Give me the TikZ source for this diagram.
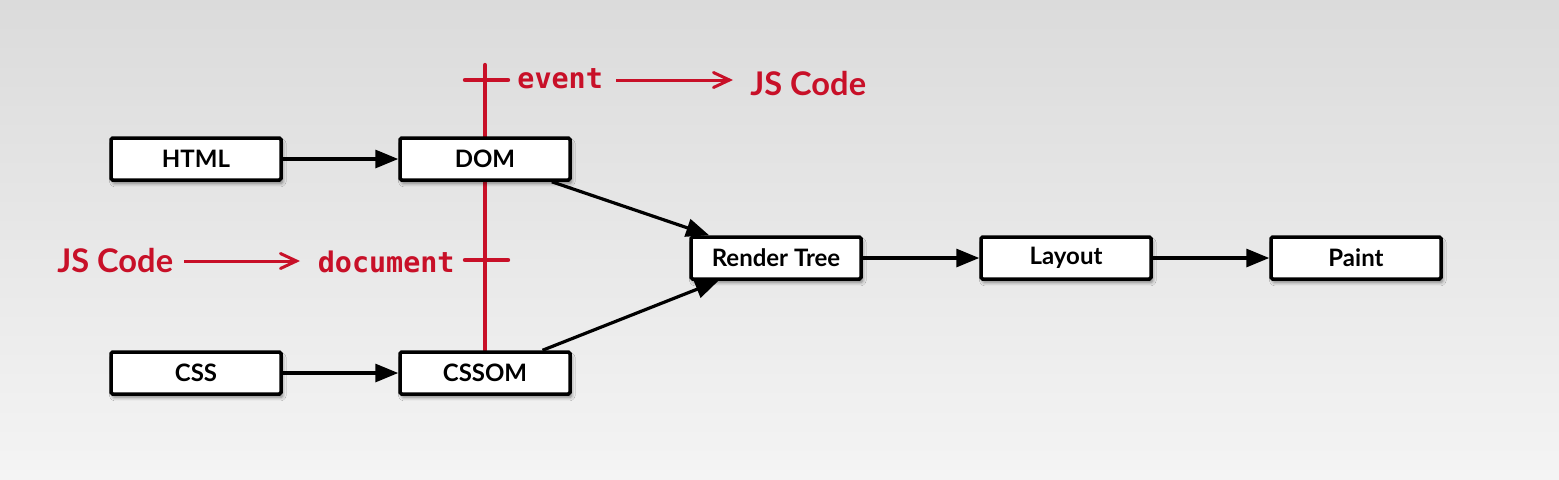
\documentclass[tikz,border=0pt]{standalone}
\usepackage{fontspec}
\setmainfont{Lato}
\newfontfamily\monofont{DejaVu Sans Mono}
\usetikzlibrary{arrows.meta,shadows.blur}
\definecolor{jsred}{RGB}{200,16,40}
\definecolor{bgtop}{RGB}{219,219,219}
\definecolor{bgbot}{RGB}{244,244,244}
\tikzset{
  stagebox/.style={draw=black, line width=1.75pt, fill=white, rounded corners=0.8pt,
    minimum width=85pt, minimum height=21pt, inner sep=0pt,
    font=\fontsize{12}{14}\selectfont\bfseries,
    blur shadow={shadow xshift=0.9pt, shadow yshift=-1.8pt, shadow blur radius=1.6pt, shadow blur steps=6, shadow opacity=45}},
  flow/.style={line width=1.6pt, -{Triangle[length=11.5pt,width=9pt]}},
  redbar/.style={draw=jsred, line width=2.2pt, line cap=round},
  redarrow/.style={draw=jsred, line width=1.5pt, -{Straight Barb[length=8pt,width=7.5pt,line cap=round]}},
  monolabel/.style={text=jsred, font=\fontsize{14.2}{16}\selectfont\monofont\bfseries, inner sep=0pt, anchor=base},
  jslabel/.style={text=jsred, font=\fontsize{16.3}{20}\selectfont\bfseries, inner sep=0pt, anchor=base},
}
\begin{document}
\begin{tikzpicture}[x=0.5pt,y=-0.5pt]
\shade[top color=bgtop, bottom color=bgbot] (0,0) rectangle (1559,479);
\useasboundingbox (0,0) rectangle (1559,479);
% red timeline
\coordinate (vtop) at (485,65);
\coordinate (vbot) at (485,350);
\coordinate (tbL) at (465,80);
\coordinate (tbR) at (508,80);
\coordinate (bbL) at (465,260);
\coordinate (bbR) at (508,260);
\draw[redbar] (vtop) -- (vbot);
\draw[redbar] (tbL) -- (tbR);
\draw[redbar] (bbL) -- (bbR);
% boxes
\node[stagebox] (html)  at (196,159) {HTML};
\node[stagebox] (dom)   at (485,159) {DOM};
\node[stagebox] (css)   at (196,373) {CSS};
\node[stagebox] (cssom) at (485,373) {CSSOM};
\node[stagebox] (rt)    at (776,258) {Render Tree};
\node[stagebox] (lay)   at (1066,258) {Layout};
\node[stagebox] (paint) at (1356,258) {Paint};
% flows
\draw[flow] (html) -- (dom);
\draw[flow] (css) -- (cssom);
\draw[flow] (dom) -- (rt);
\draw[flow] (cssom) -- (rt);
\draw[flow] (rt) -- (lay);
\draw[flow] (lay) -- (paint);
% red labels
\node[monolabel, anchor=base west] (event) at (517,88) {event};
\node[jslabel, anchor=base west] (js1) at (750,95) {JS Code};
\node[jslabel, anchor=base west] (js2) at (57,272) {JS Code};
\node[monolabel, anchor=base east] (docu) at (455,272) {document};
\coordinate (a1s) at (616,80);
\coordinate (a1e) at (733,80);
\coordinate (a2s) at (184,261);
\coordinate (a2e) at (300,261);
\draw[redarrow] (a1s) -- (a1e);
\draw[redarrow] (a2s) -- (a2e);
\end{tikzpicture}
\end{document}
